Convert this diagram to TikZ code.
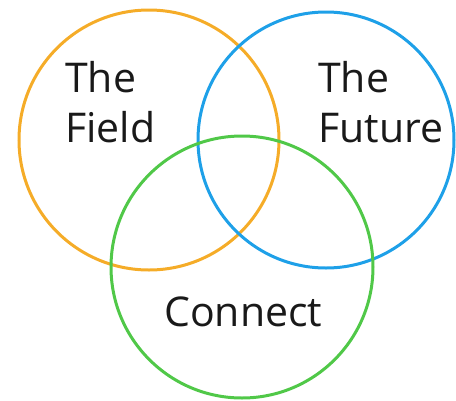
\documentclass[tikz,border=0pt]{standalone}
\usepackage{fontspec}
\setmainfont{Open Sans}
\usetikzlibrary{positioning}

\definecolor{fieldorange}{RGB}{245,172,40}
\definecolor{futureblue}{RGB}{30,160,232}
\definecolor{connectgreen}{RGB}{80,200,72}

\begin{document}
\begin{tikzpicture}[x=1pt, y=-1pt, font=\fontsize{41}{50}\selectfont,
  ring/.style={draw=#1, line width=3pt},
  word/.style={inner sep=0pt, align=left, text=black!90}]
\useasboundingbox (0,0) rectangle (456,400);

% the three circles
\draw[ring=fieldorange] (149,140) circle [radius=130];
\draw[ring=futureblue] (326,140) circle [radius=128];
\draw[ring=connectgreen] (242,267) circle [radius=131];

% labels
\node (field) [word, anchor=base west] at (65,142) {The\\Field};
\node (future) [word, anchor=base west] at (318,142) {The\\Future};
\node (connect) [word, anchor=base west] at (164,326) {Connect};
\end{tikzpicture}
\end{document}
